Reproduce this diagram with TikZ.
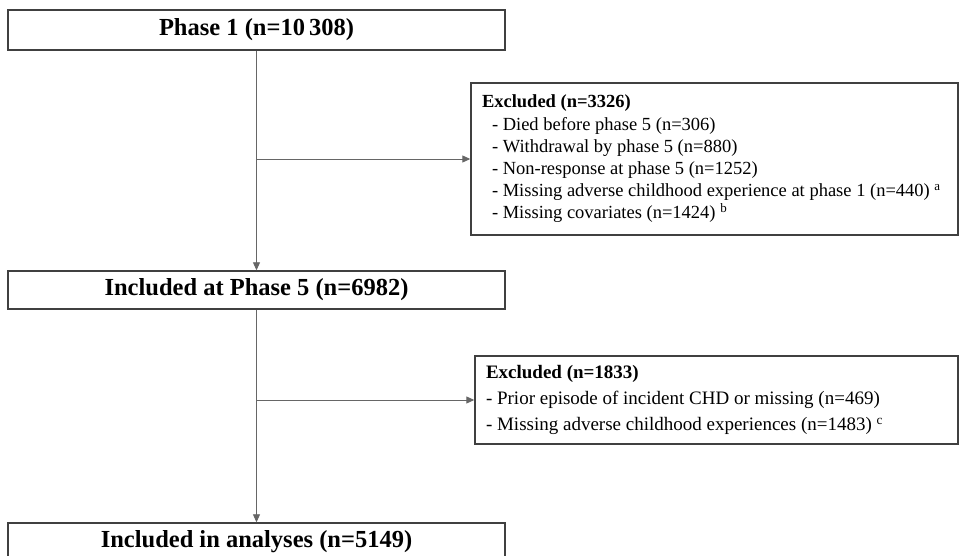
\documentclass[tikz,border=0pt]{standalone}
\usepackage{fontspec}
\setmainfont{Liberation Serif}
\usetikzlibrary{arrows.meta}
\begin{document}
\begin{tikzpicture}[x=1pt,y=1pt,
  mainbox/.style={draw=black!75, line width=1.4pt, minimum width=497pt, inner sep=0pt,
    font=\fontsize{24.5}{28}\selectfont\bfseries},
  exbox/.style={draw=black!75, line width=1.4pt, inner xsep=11pt, inner ysep=0pt, align=flush left},
  conn/.style={draw=black!60, line width=0.9pt},
  arr/.style={conn, -{Triangle[length=8pt,width=7pt]}}
]
\clip (0,0) rectangle (960,556);
\fill[white] (0,0) rectangle (960,556);

\node[mainbox, minimum height=40pt] (p1) at (256.5,526) {Phase 1 (n=10\,308)};
\node[mainbox, minimum height=38pt] (p5) at (256.5,266) {Included at Phase 5 (n=6982)};
\node[mainbox, minimum height=38pt] (an) at (256.5,14) {Included in analyses (n=5149)};

\node[exbox, text width=465pt, minimum height=152pt,
  font=\fontsize{18.5}{22.2}\selectfont] (ex1) at (714.5,397) {%
  \textbf{Excluded (n=3326)}\\
  \hspace*{10pt}- Died before phase 5 (n=306)\\
  \hspace*{10pt}- Withdrawal by phase 5 (n=880)\\
  \hspace*{10pt}- Non-response at phase 5 (n=1252)\\
  \hspace*{10pt}- Missing adverse childhood experience at phase 1 (n=440) \textsuperscript{a}\\
  \hspace*{10pt}- Missing covariates (n=1424) \textsuperscript{b}};

\node[exbox, text width=461pt, minimum height=88pt,
  font=\fontsize{19}{26}\selectfont] (ex2) at (716.5,156) {%
  \textbf{Excluded (n=1833)}\\
  - Prior episode of incident CHD or missing (n=469)\\
  - Missing adverse childhood experiences (n=1483) \textsuperscript{c}};

\draw[arr] (p1.south) -- (p5.north);
\draw[arr] (ex1.west -| p1.south) -- (ex1.west);
\draw[arr] (p5.south) -- (an.north);
\draw[arr] (ex2.west -| p5.south) -- (ex2.west);
\end{tikzpicture}
\end{document}
